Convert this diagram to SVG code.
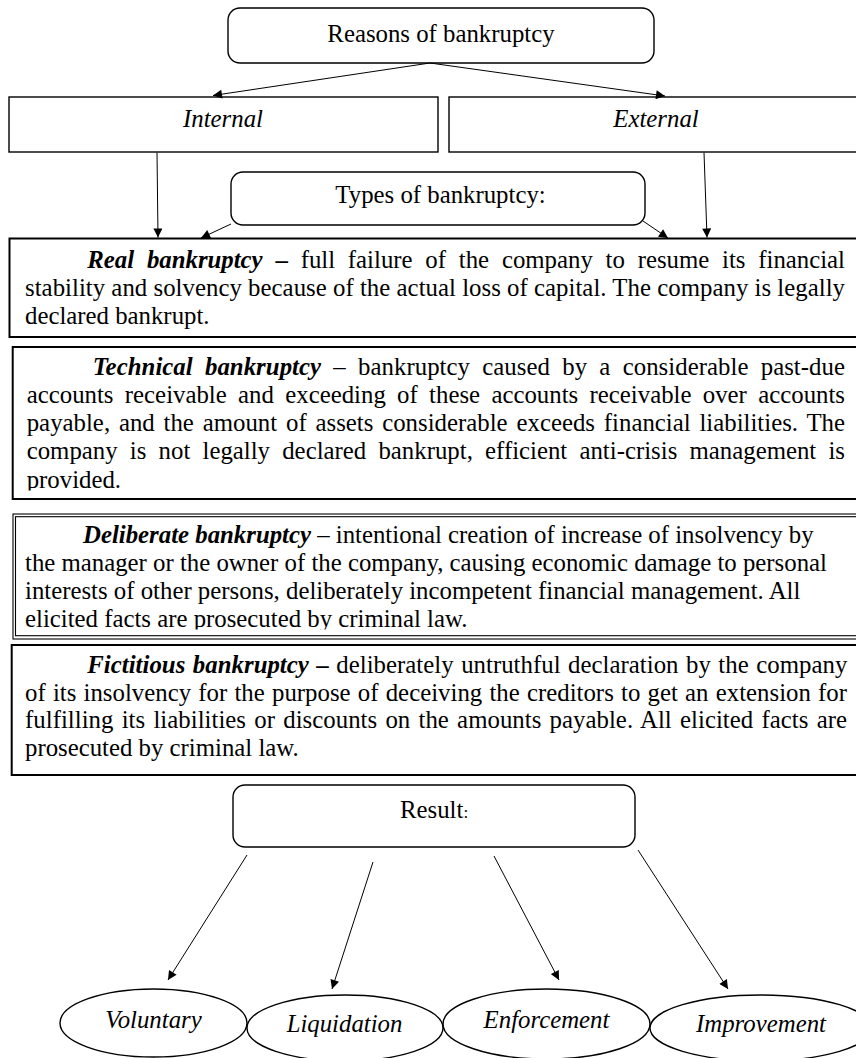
<svg xmlns="http://www.w3.org/2000/svg" width="856" height="1058" viewBox="0 0 856 1058">
<style>
  text { font-family: "Liberation Serif", "Times New Roman", serif; font-size: 24.8px; fill: #000; }
  .c { text-anchor: middle; }
  .i { font-style: italic; }
  .bi { font-weight: bold; font-style: italic; }
  .b { font-weight: bold; }
  .rbox { fill: #fff; stroke: #000; stroke-width: 1.4; }
  .box { fill: #fff; stroke: #000; stroke-width: 1.4; }
  .tbox { fill: #fff; stroke: #000; stroke-width: 2; }
  .thin { fill: none; stroke: #000; stroke-width: 1.1; }
  .ell { fill: #fff; stroke: #000; stroke-width: 1.4; }
  .conn line { stroke: #000; stroke-width: 1; marker-end: url(#ah); }
</style>
<defs>
  <marker id="ah" viewBox="0 0 10 10" refX="10" refY="5" markerWidth="11" markerHeight="9" markerUnits="userSpaceOnUse" orient="auto">
    <path d="M0,0 L10,5 L0,10 z" fill="#000"/>
  </marker>
  <clipPath id="clipTech"><rect x="0" y="340" width="856" height="150.5"/></clipPath>
  <clipPath id="clipDel"><rect x="0" y="510" width="856" height="119.5"/></clipPath>
</defs>

<rect width="856" height="1058" fill="#fff"/>

<g id="reasons">
  <rect class="rbox" x="228" y="8" width="426" height="55" rx="12"/>
  <text class="c" x="441" y="42">Reasons of bankruptcy</text>
</g>

<g id="internal">
  <rect class="box" x="9" y="97" width="429" height="55"/>
  <text class="c i" x="223" y="127">Internal</text>
</g>

<g id="external">
  <rect class="box" x="449" y="97" width="420" height="55"/>
  <text class="c i" x="656" y="127">External</text>
</g>

<g id="types">
  <rect class="rbox" x="231" y="172" width="414" height="53" rx="12"/>
  <text class="c" x="440.5" y="203">Types of bankruptcy:</text>
</g>

<g id="real">
  <rect class="tbox" x="9.5" y="238.5" width="860" height="98.5"/>
  <text x="87.3" y="267.5" textLength="757.7" lengthAdjust="spacing" word-spacing="6.6"><tspan class="bi">Real bankruptcy</tspan> <tspan class="b">–</tspan> full failure of the company to resume its financial</text>
  <text x="25" y="295.5" textLength="820" lengthAdjust="spacing">stability and solvency because of the actual loss of capital. The company is legally</text>
  <text x="25" y="323.5">declared bankrupt.</text>
</g>

<g id="technical">
  <rect class="tbox" x="12.7" y="347" width="860" height="152"/>
  <g clip-path="url(#clipTech)">
    <text x="92.7" y="375" textLength="752.3" lengthAdjust="spacing" word-spacing="6"><tspan class="bi">Technical bankruptcy</tspan> – bankruptcy caused by a considerable past-due</text>
    <text x="26.7" y="403" textLength="818.3" lengthAdjust="spacing" word-spacing="5.1">accounts receivable and exceeding of these accounts receivable over accounts</text>
    <text x="26.7" y="431" textLength="818.3" lengthAdjust="spacing" word-spacing="2.6">payable, and the amount of assets considerable exceeds financial liabilities. The</text>
    <text x="26.7" y="459.3" textLength="818.3" lengthAdjust="spacing" word-spacing="6">company is not legally declared bankrupt, efficient anti-crisis management is</text>
    <text x="26.7" y="487.5">provided.</text>
  </g>
</g>

<g id="deliberate">
  <rect x="13" y="514" width="860" height="125" fill="#fff"/>
  <rect class="thin" x="13" y="514" width="860" height="125"/>
  <rect class="thin" x="15.5" y="516.7" width="860" height="119"/>
  <g clip-path="url(#clipDel)">
    <text x="83" y="543.3"><tspan class="bi">Deliberate bankruptcy</tspan> – intentional creation of increase of insolvency by</text>
    <text x="25" y="571">the manager or the owner of the company, causing economic damage to personal</text>
    <text x="25" y="599">interests of other persons, deliberately incompetent financial management. All</text>
    <text x="25" y="627">elicited facts are prosecuted by criminal law.</text>
  </g>
</g>

<g id="fictitious">
  <rect class="tbox" x="11.7" y="645" width="860" height="130"/>
  <text x="87.3" y="673.3" textLength="760" lengthAdjust="spacing" word-spacing="1.3"><tspan class="bi">Fictitious bankruptcy</tspan> <tspan class="b">–</tspan> deliberately untruthful declaration by the company</text>
  <text x="25" y="700.8" textLength="822" lengthAdjust="spacing" word-spacing="1">of its insolvency for the purpose of deceiving the creditors to get an extension for</text>
  <text x="25" y="728.3" textLength="822" lengthAdjust="spacing" word-spacing="2">fulfilling its liabilities or discounts on the amounts payable. All elicited facts are</text>
  <text x="25" y="755.8">prosecuted by criminal law.</text>
</g>

<g id="result">
  <rect class="rbox" x="233" y="785" width="402" height="62" rx="12"/>
  <text x="400" y="818">Result<tspan font-size="17">:</tspan></text>
</g>

<g id="voluntary">
  <ellipse class="ell" cx="153.5" cy="1023" rx="93.5" ry="34"/>
  <text class="c i" x="153.5" y="1028">Voluntary</text>
</g>

<g id="liquidation">
  <ellipse class="ell" cx="345" cy="1028" rx="98" ry="33"/>
  <text class="c i" x="344.5" y="1032">Liquidation</text>
</g>

<g id="enforcement">
  <ellipse class="ell" cx="546.5" cy="1024" rx="103.5" ry="35"/>
  <text class="c i" x="546.5" y="1028">Enforcement</text>
</g>

<g id="improvement">
  <ellipse class="ell" cx="761" cy="1028" rx="111" ry="33"/>
  <text class="c i" x="761" y="1032">Improvement</text>
</g>

<g id="connectors" class="conn">
  <line x1="430" y1="63" x2="213" y2="95.5"/>
  <line x1="430" y1="63" x2="665" y2="96"/>
  <line x1="157" y1="152.5" x2="158" y2="237.5"/>
  <line x1="704" y1="152.5" x2="707" y2="237.5"/>
  <line x1="231" y1="224" x2="201" y2="238"/>
  <line x1="643" y1="221" x2="668" y2="238"/>
  <line x1="247" y1="855" x2="168" y2="980"/>
  <line x1="373" y1="862" x2="332" y2="989"/>
  <line x1="494" y1="856" x2="559" y2="980"/>
  <line x1="638" y1="850" x2="728" y2="989"/>
</g>
</svg>
